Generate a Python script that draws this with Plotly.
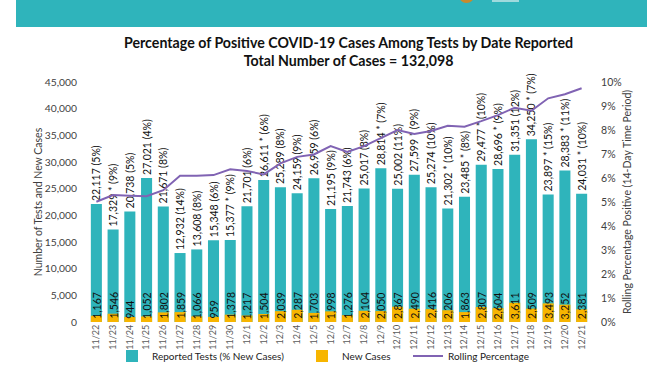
import plotly.graph_objects as go

dates = ["11/22", "11/23", "11/24", "11/25", "11/26", "11/27", "11/28", "11/29", "11/30",
         "12/1", "12/2", "12/3", "12/4", "12/5", "12/6", "12/7", "12/8", "12/9", "12/10",
         "12/11", "12/12", "12/13", "12/14", "12/15", "12/16", "12/17", "12/18", "12/19",
         "12/20", "12/21"]
reported_tests = [22117, 17329, 20738, 27021, 21671, 12932, 13608, 15348, 15377, 21701,
                  26611, 25289, 24159, 26959, 21195, 21743, 25017, 28814, 25002, 27599,
                  25274, 21302, 23485, 29477, 28696, 31351, 34250, 23897, 28383, 24031]
pct_new_cases = [5, 9, 5, 4, 8, 14, 8, 6, 9, 6, 6, 8, 9, 6, 9, 6, 8, 7, 11, 9,
                 10, 10, 8, 10, 9, 12, 7, 15, 11, 10]
asterisk = [0, 1, 0, 0, 0, 0, 0, 0, 1, 0, 1, 0, 0, 0, 0, 0, 0, 1, 0, 1,
            0, 1, 1, 1, 1, 0, 1, 1, 1, 1]
new_cases = [1167, 1546, 944, 1052, 1802, 1859, 1066, 959, 1378, 1217, 1504, 2039, 2287,
             1703, 1998, 1276, 2104, 2050, 2867, 2490, 2416, 2206, 1863, 2807, 2604, 3611,
             2509, 3493, 3252, 2381]
rolling_pct = [5.01, 5.29, 5.26, 5.24, 5.49, 6.09, 6.09, 6.12, 6.36, 6.29, 6.15, 6.61,
               6.88, 6.98, 7.33, 7.09, 7.33, 7.65, 8.00, 7.83, 7.96, 8.18, 8.14, 8.37,
               8.62, 8.93, 8.80, 9.32, 9.49, 9.74]
total_cases = "132,098"

TEAL = "#2fb4bb"
YELLOW = "#f7b500"
PURPLE = "#8063b3"
FONT = "Lato"

# plot area in pixels
W, H = 672, 372
L, R, T, B = 88, 590, 82, 322


def cx(x):
    return x / W


def cy(y):
    return 1 - y / H


def px(x):
    return (x - L) / (R - L)


def py(y):
    return (B - y) / (B - T)


test_labels = [f"{v:,}{' *' if a else ''} ({p}%)" for v, a, p in zip(reported_tests, asterisk, pct_new_cases)]

fig = go.Figure()
fig.add_trace(go.Bar(
    x=dates, y=reported_tests, name="Reported Tests (% New Cases)",
    marker=dict(color=TEAL, line=dict(width=0)), width=0.66,
    text=test_labels, textposition="outside", textangle=-90,
    textfont=dict(family=FONT, size=10.5, color="#111111"),
    constraintext="none", cliponaxis=False, legend="legend",
))
fig.add_trace(go.Bar(
    x=dates, y=new_cases, name="New Cases",
    marker=dict(color=YELLOW, line=dict(width=0)), width=0.66,
    legend="legend2",
))
fig.add_trace(go.Scatter(
    x=dates, y=rolling_pct, name="Rolling Percentage", yaxis="y2",
    mode="lines", line=dict(color=PURPLE, width=2), legend="legend3",
))

annotations = []
for d, n in zip(dates, new_cases):
    annotations.append(dict(
        x=d, y=0, xref="x", yref="y", text=f"{n:,}", showarrow=False,
        textangle=-90, yanchor="bottom", xanchor="center", yshift=1,
        font=dict(family=FONT, size=10.5, color="#111111"),
    ))

annotations.append(dict(
    x=px(348), y=py(51), xref="paper", yref="paper", showarrow=False,
    xanchor="center", yanchor="middle",
    text=f"<b>Percentage of Positive COVID-19 Cases Among Tests by Date Reported</b><br><b>Total Number of Cases = {total_cases}</b>",
    font=dict(family=FONT, size=14.2, color="#111111"), align="center",
))

shapes = [
    dict(type="rect", xref="paper", yref="paper", x0=px(16), x1=px(647), y0=py(27), y1=py(0),
         fillcolor=TEAL, line=dict(width=0), layer="below"),
    dict(type="circle", xref="paper", yref="paper", x0=px(459), x1=px(474), y0=py(3), y1=py(-11),
         fillcolor="#c88a2c", line=dict(width=0)),
    dict(type="rect", xref="paper", yref="paper", x0=px(492), x1=px(519), y0=py(2), y1=py(0),
         fillcolor="#9fdadd", line=dict(width=0)),
]

legend_common = dict(orientation="h", xref="container", yref="container",
                     xanchor="left", yanchor="middle",
                     font=dict(family=FONT, size=10, color="#222222"),
                     bgcolor="rgba(0,0,0,0)", borderwidth=0)

fig.update_layout(
    template="none",
    width=W, height=H,
    margin=dict(l=L, r=W - R, t=T, b=H - B, pad=0, autoexpand=False),
    paper_bgcolor="white", plot_bgcolor="white",
    barmode="overlay",
    font=dict(family=FONT, color="#404040"),
    showlegend=True,
    xaxis=dict(type="category", tickangle=-90, tickfont=dict(size=9, color="#595959"),
               showgrid=False, showline=False, ticks="", zeroline=False, automargin=False),
    yaxis=dict(range=[0, 45000], dtick=5000, tickformat=",", showgrid=False, zeroline=False,
               showline=False, ticks="outside", ticklen=8, tickcolor="rgba(0,0,0,0)",
               tickfont=dict(size=10.3, color="#404040"), automargin=False,
               title=dict(text="Number of Tests and New Cases", font=dict(size=10.5, color="#404040"), standoff=0)),
    yaxis2=dict(range=[0, 10], dtick=1, ticksuffix="%", overlaying="y", side="right",
                showgrid=False, zeroline=False, showline=False, ticks="outside", ticklen=8,
                tickcolor="rgba(0,0,0,0)", tickfont=dict(size=10.5, color="#404040"), automargin=False,
                title=dict(text="Rolling Percentage Positive (14-Day Time Period)",
                           font=dict(size=10.5, color="#404040"), standoff=2)),
    legend=dict(x=cx(112), y=cy(356), **legend_common),
    legend2=dict(x=cx(302), y=cy(356), **legend_common),
    legend3=dict(x=cx(408), y=cy(356), **legend_common),
    annotations=annotations,
    shapes=shapes,
)

fig.write_html("out.html", config={"displayModeBar": False},
               post_script="document.body.style.margin='0';document.body.style.overflow='hidden';")
